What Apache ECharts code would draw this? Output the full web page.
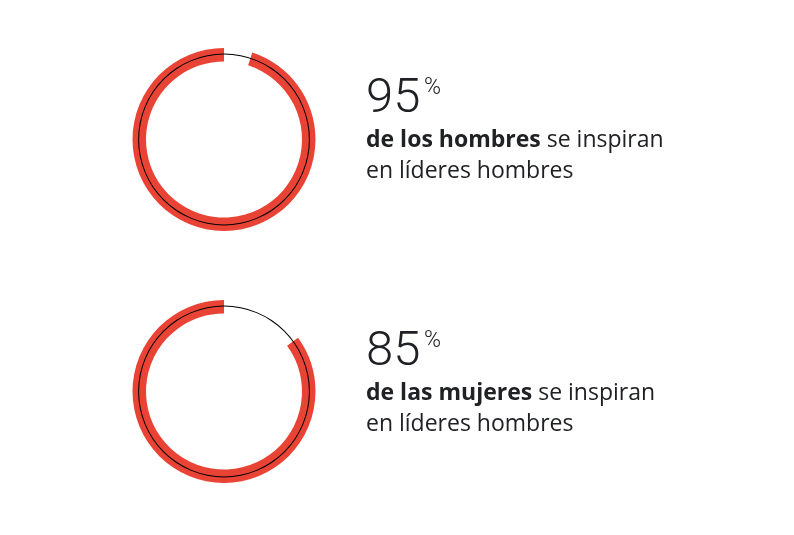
<!DOCTYPE html>
<html>
<head>
<meta charset="utf-8">
<script src="https://cdn.jsdelivr.net/npm/echarts@6/dist/echarts.min.js"></script>
<style>
html,body{margin:0;padding:0;background:#fff;}
#c{width:794px;height:535px;}
</style>
</head>
<body>
<div id="c"></div>
<script>
const percents = [95, 85];
const boldLabels = ['de los hombres', 'de las mujeres'];
const restLine1 = [' se inspiran', ' se inspiran'];
const line2 = ['en líderes hombres', 'en líderes hombres'];

const RED = '#E94335';
const TXT = '#202124';
const FONT = 'Roboto, "Noto Sans", sans-serif';
const FONT2 = '"Open Sans", Roboto, sans-serif';
const centersY = [139.5, 391.5];
const textTops = [96, 349];
const cx = 224;
const textX = 366;

const chart = echarts.init(document.getElementById('c'), null, {renderer: 'canvas'});

const series = [];
const graphic = [];
percents.forEach((p, i) => {
  series.push({
    type: 'pie',
    center: [cx, centersY[i]],
    radius: [78, 91.5],
    startAngle: 90,
    clockwise: false,
    silent: true,
    padAngle: 0,
    label: {show: false},
    labelLine: {show: false},
    emphasis: {disabled: true},
    itemStyle: {borderWidth: 0, borderRadius: 0},
    z: 1,
    data: [
      {value: p, itemStyle: {color: RED}},
      {value: 100 - p, itemStyle: {color: 'rgba(0,0,0,0)'}}
    ]
  });
  series.push({
    type: 'pie',
    center: [cx, centersY[i]],
    radius: [84.9, 85.9],
    silent: true,
    label: {show: false},
    labelLine: {show: false},
    emphasis: {disabled: true},
    itemStyle: {borderWidth: 0},
    z: 2,
    data: [{value: 100, itemStyle: {color: '#000'}}]
  });
  const y0 = textTops[i];
  graphic.push({
    type: 'text', left: textX, top: y0 - 21,
    style: {text: String(p), font: '300 49px ' + FONT, fill: TXT}
  });
  graphic.push({
    type: 'text', left: textX + 58, top: y0 - 19,
    style: {text: '%', font: '300 23px ' + FONT, fill: TXT}
  });
  graphic.push({
    type: 'text', left: textX, top: y0 + 33,
    style: {
      text: '{b|' + boldLabels[i] + '}{r|' + restLine1[i] + '}\n{r|' + line2[i] + '}',
      rich: {
        b: {font: 'bold 23px ' + FONT2, fill: TXT, lineHeight: 30.5},
        r: {font: '400 23px ' + FONT2, fill: TXT, lineHeight: 30.5}
      }
    }
  });
});

chart.setOption({
  animation: false,
  series: series,
  graphic: graphic
});
</script>
</body>
</html>
